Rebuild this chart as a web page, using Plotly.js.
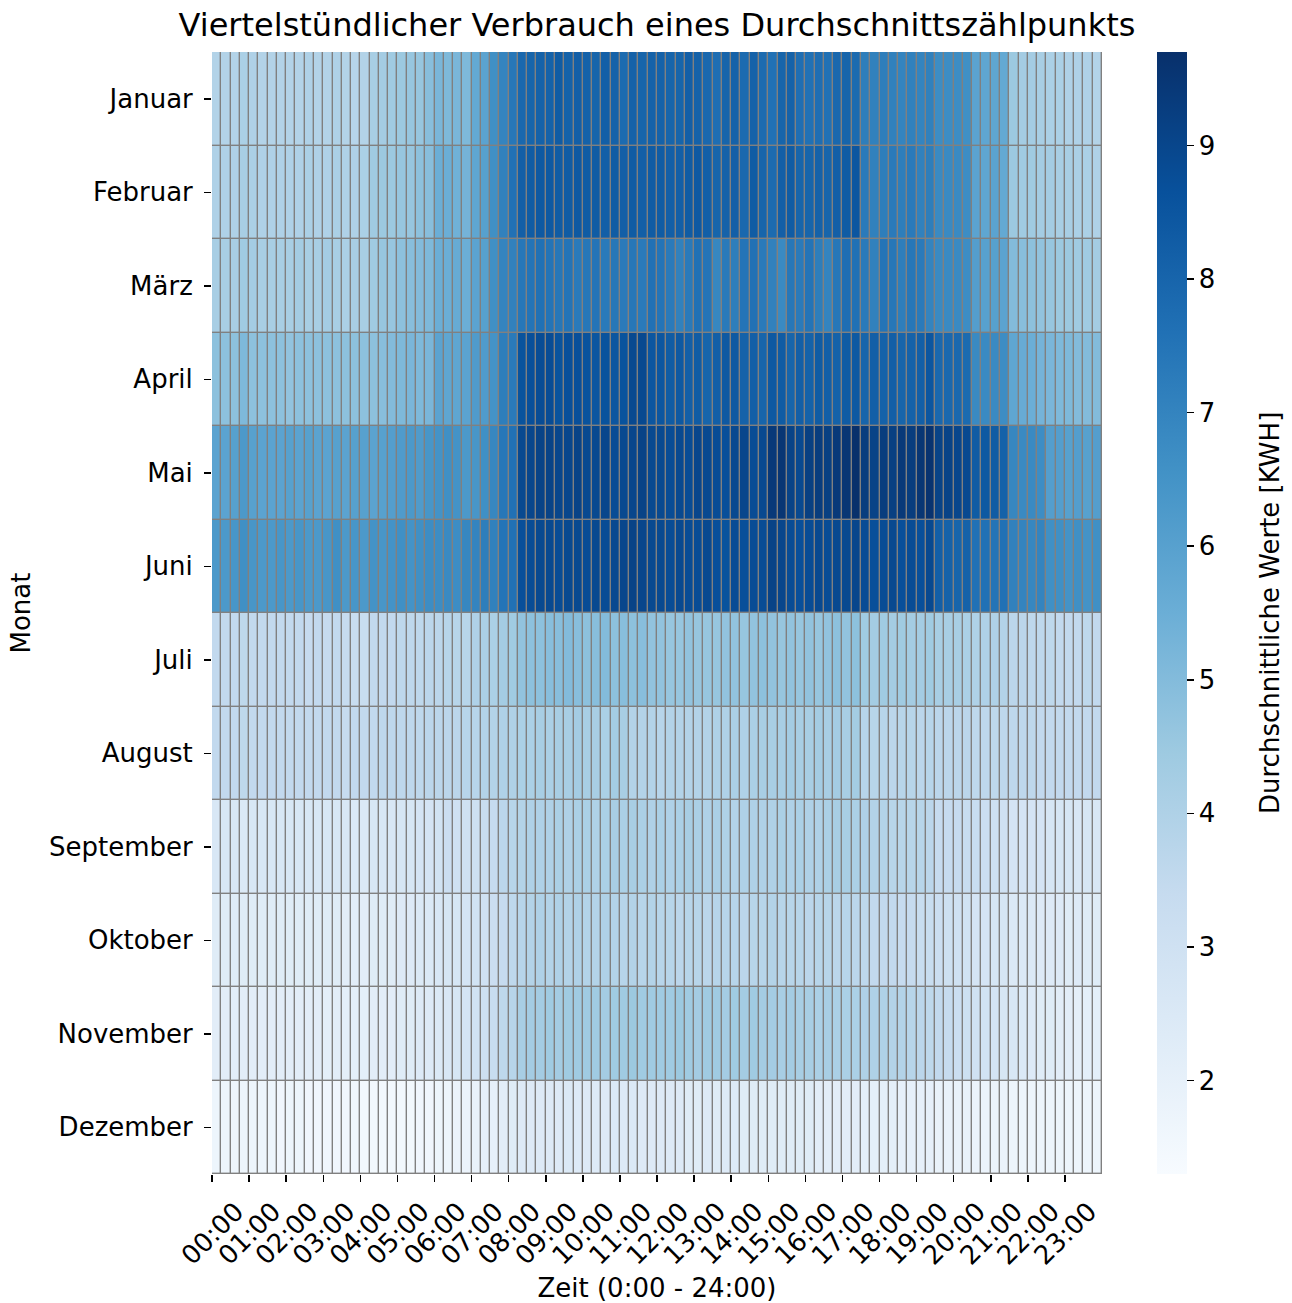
<!DOCTYPE html>
<html>
<head>
<meta charset="utf-8">
<script src="https://cdn.plot.ly/plotly-3.0.1.min.js"></script>
<style>html,body{margin:0;padding:0;background:#fff;}#chart{width:1292px;height:1303px;}</style>
</head>
<body>
<div id="chart"></div>
<script>
// Monate (Zeilen)
const months = ["Januar","Februar","März","April","Mai","Juni","Juli","August","September","Oktober","November","Dezember"];
// Stundenbeschriftungen (x-Ticks)
const hourLabels = ["00:00","01:00","02:00","03:00","04:00","05:00","06:00","07:00","08:00","09:00","10:00","11:00",
                    "12:00","13:00","14:00","15:00","16:00","17:00","18:00","19:00","20:00","21:00","22:00","23:00"];

// Viertelstundenwerte (96 je Monat), gruppiert nach Stunde
const januar = [3.9,3.9,3.9,4.1, 4.0,3.9,3.9,3.9, 3.9,3.9,4.0,3.9, 3.9,4.0,3.9,3.8, 3.9,4.2,4.3,4.4, 4.5,4.6,4.6,4.9,
  5.2,5.1,5.2,5.1, 5.7,5.9,6.6,7.0, 7.4,7.9,8.0,8.1, 8.1,8.3,8.1,8.2, 8.1,8.0,8.2,8.1, 7.8,8.1,8.0,8.1,
  8.1,8.0,8.0,8.2, 8.1,7.9,7.7,8.0, 8.1,7.8,8.1,7.8, 7.6,8.0,8.1,7.7, 7.6,7.7,7.6,7.9, 8.0,7.8,7.2,7.1,
  7.2,7.1,7.0,7.1, 7.0,7.1,6.7,6.7, 6.7,6.6,5.9,5.8, 5.8,5.7,4.5,4.3, 4.3,4.2,4.1,4.1, 4.0,4.0,4.0,3.9];
const februar = [4.0,4.0,4.0,4.2, 4.1,4.0,4.0,4.0, 4.0,4.0,4.1,4.0, 4.0,4.1,4.0,4.0, 4.1,4.4,4.5,4.5, 4.6,4.6,4.8,4.9,
  5.5,5.5,5.4,5.3, 5.8,6.0,6.6,7.1, 7.6,8.2,8.3,8.4, 8.4,8.3,8.3,8.4, 8.3,8.3,8.2,8.3, 8.2,8.3,8.2,8.3,
  8.3,8.2,8.2,8.3, 8.4,8.2,8.0,8.1, 8.2,7.9,8.3,8.0, 7.8,8.2,8.3,8.0, 8.0,8.1,8.0,8.2, 8.3,8.5,7.3,7.1,
  7.2,7.3,7.2,7.3, 7.1,7.2,6.8,6.8, 6.8,6.7,5.9,5.8, 5.9,5.7,4.5,4.4, 4.4,4.3,4.3,4.2, 4.2,4.1,4.1,4.0];
const maerz = [4.2,4.2,4.2,4.4, 4.3,4.2,4.2,4.2, 4.2,4.3,4.2,4.2, 4.3,4.2,4.1,4.2, 4.2,4.4,4.6,4.6, 4.8,4.9,5.0,5.1,
  5.5,5.5,5.6,5.5, 5.9,6.0,6.6,7.0, 7.1,7.4,7.5,7.6, 7.5,7.4,7.5,7.3, 7.4,7.5,7.3,7.4, 7.3,7.4,7.3,7.6,
  7.5,7.3,7.1,7.3, 7.6,7.5,6.9,7.3, 7.2,7.5,7.6,7.3, 7.1,6.8,7.4,7.3, 7.5,7.2,7.0,7.4, 7.7,7.6,7.3,7.1,
  7.5,7.4,7.2,7.4, 7.3,7.0,6.8,6.8, 6.8,6.7,6.1,6.0, 6.0,5.9,5.0,4.9, 4.8,4.7,4.6,4.5, 4.5,4.4,4.4,4.3];
const april = [4.8,4.8,4.8,5.1, 4.8,4.8,4.8,4.8, 4.7,4.8,4.8,4.8, 4.8,4.8,4.8,4.8, 4.8,4.8,4.9,5.0, 5.1,5.2,5.1,5.2,
  5.9,5.8,5.8,5.9, 6.2,6.2,6.5,7.2, 7.3,8.6,8.7,8.8, 8.8,8.6,8.7,8.7, 8.6,8.5,8.6,8.5, 8.6,8.9,8.9,8.5,
  8.5,8.3,8.4,8.2, 8.3,8.0,8.2,8.4, 8.4,8.1,8.2,8.0, 8.4,8.3,8.0,8.2, 8.1,8.3,8.2,8.1, 8.3,8.4,8.0,8.2,
  8.1,8.2,8.0,8.1, 8.2,8.5,7.9,7.9, 7.9,7.8,6.8,6.8, 6.8,6.7,5.8,5.6, 5.5,5.3,5.2,5.1, 5.1,5.0,5.0,5.0];
const mai = [5.9,5.9,6.0,6.3, 6.0,5.9,5.9,5.9, 6.0,5.9,6.0,5.9, 5.9,6.0,5.9,6.0, 6.0,5.9,6.0,6.1, 6.2,6.3,6.2,6.4,
  6.5,6.6,6.5,6.3, 6.4,6.6,6.9,7.4, 7.6,8.9,9.0,9.1, 9.1,9.0,9.0,9.1, 8.9,8.9,9.0,8.8, 8.9,9.0,9.1,8.9,
  8.9,8.8,8.9,8.8, 9.0,8.9,8.8,8.7, 8.9,9.0,8.8,8.9, 9.4,9.5,9.1,8.9, 9.2,9.3,9.2,9.4, 9.5,9.7,9.3,9.1,
  9.3,9.2,9.4,9.3, 9.5,9.6,9.1,9.1, 9.0,8.9,8.3,8.4, 8.3,8.1,6.9,6.8, 6.8,6.7,6.1,6.1, 6.0,6.1,6.0,6.1];
const juni = [6.3,6.3,6.4,6.6, 6.4,6.3,6.3,6.4, 6.3,6.4,6.3,6.3, 6.4,6.6,6.3,6.4, 6.3,6.5,6.4,6.5, 6.6,6.5,6.6,6.7,
  6.7,6.8,6.7,6.9, 7.0,7.2,7.1,7.5, 7.6,8.7,8.8,8.9, 8.9,8.8,8.9,8.9, 8.8,8.9,8.8,8.9, 9.0,9.1,9.0,8.9,
  8.9,8.8,8.9,8.8, 8.8,8.9,8.7,8.6, 8.8,8.7,8.8,8.8, 9.1,9.0,8.8,8.7, 8.8,8.9,8.8,8.9, 8.9,9.0,8.8,8.7,
  8.8,8.9,8.7,8.8, 8.7,8.9,8.2,8.1, 8.0,8.1,7.6,7.6, 7.5,7.6,7.1,7.0, 6.9,7.0,6.6,6.6, 6.5,6.6,6.5,6.6];
const juli = [3.5,3.5,3.5,3.6, 3.5,3.5,3.5,3.5, 3.5,3.5,3.4,3.5, 3.4,3.5,3.4,3.3, 3.3,3.5,3.5,3.5, 3.6,3.6,3.6,3.7,
  3.7,3.8,3.8,3.8, 4.0,4.1,4.1,4.3, 4.4,4.7,4.8,4.8, 4.9,4.9,5.0,4.9, 4.8,4.9,5.0,4.8, 4.9,4.8,4.9,4.7,
  4.7,4.6,4.6,4.7, 4.6,4.6,4.6,4.7, 4.7,4.6,4.7,4.8, 4.7,4.6,4.7,4.6, 4.7,4.6,4.7,4.8, 4.7,4.8,4.4,4.3,
  4.4,4.3,4.4,4.3, 4.3,4.4,4.2,4.2, 4.2,4.1,4.0,4.0, 4.0,3.9,3.7,3.7, 3.6,3.6,3.6,3.5, 3.5,3.5,3.6,3.5];
const august = [3.5,3.5,3.5,3.6, 3.5,3.5,3.5,3.5, 3.5,3.5,3.5,3.5, 3.5,3.5,3.4,3.5, 3.5,3.5,3.6,3.6, 3.6,3.6,3.6,3.7,
  3.7,3.7,3.7,3.8, 3.8,3.9,3.9,4.0, 4.0,4.1,4.1,4.2, 4.1,4.2,4.2,4.3, 4.2,4.2,4.1,4.3, 4.2,3.9,3.9,3.9,
  3.8,3.9,3.9,3.9, 3.9,3.9,4.0,4.0, 4.1,4.0,4.1,4.2, 4.2,4.2,4.3,4.2, 4.2,4.3,4.2,4.3, 4.2,4.3,3.8,3.8,
  3.8,3.7,3.8,3.8, 3.7,3.8,3.7,3.7, 3.7,3.7,3.6,3.6, 3.6,3.6,3.6,3.6, 3.6,3.5,3.5,3.5, 3.5,3.5,3.5,3.5];
const september = [2.6,2.6,2.6,2.5, 2.6,2.6,2.6,2.6, 2.6,2.6,2.6,2.6, 2.6,2.6,2.6,2.5, 2.5,2.6,2.6,2.6, 2.7,2.7,2.8,2.8,
  2.9,3.2,3.0,3.0, 3.1,3.3,3.4,3.7, 3.8,3.9,4.0,4.0, 4.0,4.1,4.0,4.1, 4.1,4.0,4.1,4.2, 4.1,4.2,4.1,4.0,
  4.1,4.0,4.1,4.2, 4.1,4.0,4.1,4.0, 3.9,4.0,4.0,4.0, 4.0,4.1,4.0,4.1, 4.0,4.0,4.1,4.2, 4.2,4.1,4.0,3.9,
  3.9,3.8,3.8,3.8, 3.8,3.7,3.4,3.4, 3.4,3.3,3.3,3.2, 3.1,3.0,2.8,2.8, 2.8,2.8,2.7,2.7, 2.7,2.6,2.7,2.6];
const oktober = [2.3,2.3,2.3,2.3, 2.3,2.3,2.3,2.3, 2.3,2.3,2.3,2.3, 2.3,2.3,2.2,2.2, 2.2,2.3,2.3,2.3, 2.4,2.4,2.5,2.5,
  2.6,2.7,2.7,2.8, 2.9,3.0,3.2,3.4, 3.6,3.8,3.9,4.0, 3.9,4.0,3.9,4.0, 3.9,3.9,4.0,3.9, 3.8,3.9,3.8,3.9,
  3.8,3.8,3.7,3.8, 3.8,3.7,3.8,3.8, 3.8,3.7,3.8,3.8, 3.9,3.8,3.8,3.8, 3.7,3.8,3.8,3.7, 3.8,3.7,3.6,3.5,
  3.5,3.5,3.4,3.4, 3.3,3.3,3.2,3.1, 3.0,2.9,2.8,2.8, 2.7,2.7,2.5,2.5, 2.5,2.4,2.4,2.4, 2.3,2.4,2.3,2.3];
const november = [2.2,2.2,2.2,2.2, 2.2,2.2,2.2,2.2, 2.2,2.2,2.2,2.2, 2.1,2.2,2.1,2.1, 2.1,2.2,2.2,2.2, 2.3,2.3,2.4,2.4,
  2.5,2.6,2.7,2.8, 2.9,3.1,3.3,3.6, 3.8,4.2,4.3,4.3, 4.4,4.3,4.4,4.4, 4.4,4.4,4.3,4.4, 4.4,4.5,4.4,4.4,
  4.4,4.4,4.5,4.4, 4.3,4.4,4.4,4.3, 4.4,4.3,4.4,4.3, 4.3,4.2,4.3,4.2, 4.2,4.1,4.2,4.1, 4.1,4.1,4.0,4.0,
  4.0,3.9,3.9,3.8, 3.7,3.6,3.5,3.4, 3.2,3.1,3.0,2.9, 2.8,2.7,2.6,2.5, 2.4,2.3,2.3,2.2, 2.2,2.1,2.1,2.1];
const dezember = [1.7,1.7,1.7,1.7, 1.7,1.7,1.7,1.6, 1.7,1.7,1.6,1.6, 1.6,1.6,1.6,1.6, 1.5,1.5,1.5,1.5, 1.5,1.5,1.6,1.6,
  1.7,1.7,1.8,1.8, 1.9,2.0,2.0,2.2, 2.3,2.4,2.4,2.4, 2.4,2.4,2.5,2.4, 2.4,2.4,2.4,2.5, 2.4,2.5,2.4,2.4,
  2.4,2.4,2.4,2.3, 2.3,2.4,2.3,2.4, 2.4,2.3,2.3,2.3, 2.3,2.3,2.3,2.3, 2.3,2.2,2.2,2.2, 2.2,2.2,2.1,2.1,
  2.1,2.1,2.0,2.0, 2.0,2.0,1.9,1.9, 1.9,1.9,1.8,1.8, 1.8,1.8,1.7,1.7, 1.7,1.7,1.7,1.7, 1.7,1.7,1.7,1.7];

const zRows = [januar, februar, maerz, april, mai, juni, juli, august, september, oktober, november, dezember];
const nCols = januar.length;
const xIdx = Array.from({length: nCols}, (_, i) => i);
const quarterLabels = xIdx.map(i => {
  const h = Math.floor(i / 4), m = (i % 4) * 15;
  return String(h).padStart(2, "0") + ":" + String(m).padStart(2, "0");
});

const blues = [
  [0.0, "#f7fbff"], [0.125, "#deebf7"], [0.25, "#c6dbef"], [0.375, "#9ecae1"],
  [0.5, "#6baed6"], [0.625, "#4292c6"], [0.75, "#2171b5"], [0.875, "#08519c"], [1.0, "#08306b"]
];

const FAM = "DejaVu Sans, Liberation Sans, sans-serif";
const FS = 26;

const trace = {
  type: "heatmap",
  z: zRows,
  x: xIdx,
  y: months,
  customdata: zRows.map(() => quarterLabels),
  hovertemplate: "%{y} %{customdata}: %{z}<extra></extra>",
  colorscale: blues,
  zmin: 1.30,
  zmax: 9.70,
  xgap: 1.4,
  ygap: 1.4,
  colorbar: {
    x: 1.0618, xanchor: "left", xref: "paper",
    y: 0, yanchor: "bottom", len: 1, lenmode: "fraction",
    thickness: 30, thicknessmode: "pixels",
    xpad: 0, ypad: 0,
    outlinewidth: 0,
    tickvals: [2,3,4,5,6,7,8,9],
    ticks: "outside", ticklen: 7, tickwidth: 1.5, tickcolor: "#000",
    tickfont: {size: FS, family: FAM, color: "#000"}
  }
};

const layout = {
  width: 1292, height: 1303,
  margin: {l: 212, r: 190, t: 52, b: 129, pad: 0},
  paper_bgcolor: "#fff",
  plot_bgcolor: "#808080",
  font: {family: FAM, color: "#000", size: FS},
  title: {
    text: "Viertelstündlicher Verbrauch eines Durchschnittszählpunkts",
    x: 0.5, xref: "paper", xanchor: "center",
    y: 1 - 25/1303, yref: "container", yanchor: "middle",
    font: {size: 32, family: FAM, color: "#000"}
  },
  xaxis: {
    range: [-0.5, nCols - 0.5],
    tickvals: hourLabels.map((_, h) => h * 4 - 0.5),
    ticktext: hourLabels,
    tickangle: -45,
    ticklabelshift: 24,
    ticklabelstandoff: 4,
    ticks: "outside", ticklen: 7, tickwidth: 1.5, tickcolor: "#000",
    tickfont: {size: FS},
    showgrid: false, zeroline: false, showline: false,
    automargin: false,
    title: {text: "Zeit (0:00 - 24:00)", font: {size: FS}, standoff: 14}
  },
  yaxis: {
    autorange: "reversed",
    ticks: "outside", ticklen: 7, tickwidth: 1.5, tickcolor: "#000",
    ticklabelstandoff: 6,
    tickfont: {size: FS},
    showgrid: false, zeroline: false, showline: false,
    automargin: false,
    title: {text: "Monat", font: {size: FS}, standoff: 10}
  },
  annotations: [{
    text: "Durchschnittliche Werte [KWH]",
    textangle: -90,
    xref: "paper", yref: "paper",
    x: (1270 - 212) / 890, y: 0.5,
    xanchor: "center", yanchor: "middle",
    showarrow: false,
    font: {size: FS, family: FAM, color: "#000"}
  }]
};

Plotly.newPlot("chart", [trace], layout, {displayModeBar: false, staticPlot: true});
</script>
</body>
</html>
